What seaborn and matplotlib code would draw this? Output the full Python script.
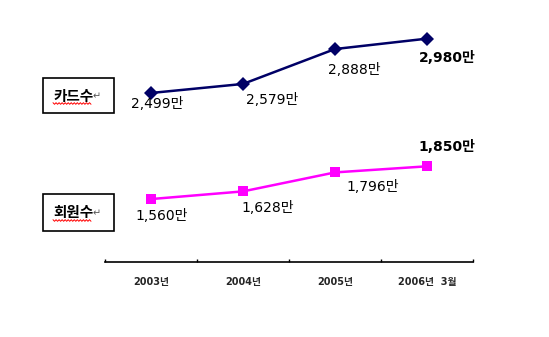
import numpy as np
import pandas as pd
import matplotlib
matplotlib.use("Agg")
import matplotlib.pyplot as plt
import seaborn as sns
from matplotlib.patches import Rectangle
from matplotlib.lines import Line2D

# Data
periods = ["2003년", "2004년", "2005년", "2006년  3월"]
card_counts = [2499, 2579, 2888, 2980]      # 만 장
member_counts = [1560, 1628, 1796, 1850]    # 만 명
series_names = ["카드수", "회원수"]

sns.set_theme(style="white")
plt.rcParams["font.family"] = ["DejaVu Sans", "Noto Sans CJK KR"]

df = pd.DataFrame({
    "pos": list(range(len(periods))) * 2,
    "value": card_counts + member_counts,
    "series": [series_names[0]] * len(periods) + [series_names[1]] * len(periods),
})

W, H = 549, 337
fig = plt.figure(figsize=(W / 100, H / 100), dpi=100)
ax = fig.add_axes([105 / W, 1 - 262 / H, (473 - 105) / W, 262 / H])

palette = {series_names[0]: "#000066", series_names[1]: "#FF00FF"}
markers = {series_names[0]: "D", series_names[1]: "s"}
sns.lineplot(data=df, x="pos", y="value", hue="series", style="series",
             palette=palette, markers=markers, dashes=False, markersize=7,
             markeredgewidth=0, linewidth=1.8, legend=False, ax=ax)

ax.set_xlim(-0.5, len(periods) - 0.5)
ax.set_ylim(1003, 3322)

# Value labels: (offset_x, offset_y) in pixels from the point, last value bold
card_offsets = [(-20, -18), (3, -23), (-7, -28), (-8, -26)]
member_offsets = [(-16, -24), (-2, -24), (11, -22), (-9, 12)]

def label_series(values, offsets):
    for i, (v, (dx, dy)) in enumerate(zip(values, offsets)):
        last = i == len(values) - 1
        ax.annotate(f"{v:,}만", xy=(i, v), xytext=(dx, dy),
                    textcoords="offset pixels", ha="left", va="bottom",
                    fontsize=10,
                    fontweight="bold" if last else "normal",
                    color="black")

label_series(card_counts, card_offsets)
label_series(member_counts, member_offsets)

# Axis styling: only the bottom line with boundary ticks pointing up
for s in ["left", "right", "top"]:
    ax.spines[s].set_visible(False)
ax.spines["bottom"].set_color("black")
ax.spines["bottom"].set_linewidth(1.2)
ax.set_yticks([])
ax.set_xticks(range(len(periods)))
ax.set_xticklabels(periods, fontsize=7, fontweight="bold")
ax.set_xticks(np.arange(-0.5, len(periods), 1.0), minor=True)
ax.tick_params(axis="x", which="major", bottom=True, length=0, pad=11)
ax.tick_params(axis="x", which="minor", bottom=True, direction="in",
               length=2.5, width=1, color="black")
ax.set_xlabel("")
ax.set_ylabel("")

# Series name boxes on the left
def name_box(x0, y0, x1, y1, text):
    fig.add_artist(Rectangle((x0 / W, 1 - y1 / H), (x1 - x0) / W, (y1 - y0) / H,
                             transform=fig.transFigure, fill=False,
                             edgecolor="black", linewidth=1.2))
    ty = (y0 + y1) / 2
    fig.text(53 / W, 1 - ty / H, text, ha="left", va="center",
             fontsize=10.5, fontweight="bold", color="black",
             family=["Noto Sans CJK KR"])
    fig.text(93 / W, 1 - (ty + 1) / H, "↵", ha="left", va="center",
             fontsize=7, color="#555555", family=["DejaVu Sans"])
    xs = np.linspace(53, 91, 26)
    ys = ty + 8 + np.where(np.arange(len(xs)) % 2 == 0, -0.8, 0.8)
    fig.add_artist(Line2D(xs / W, 1 - ys / H, transform=fig.transFigure,
                          color="red", linewidth=0.7))

name_box(43, 78, 114, 113, series_names[0])
name_box(43, 194, 114, 231, series_names[1])

fig.savefig("out.png", dpi=100)
